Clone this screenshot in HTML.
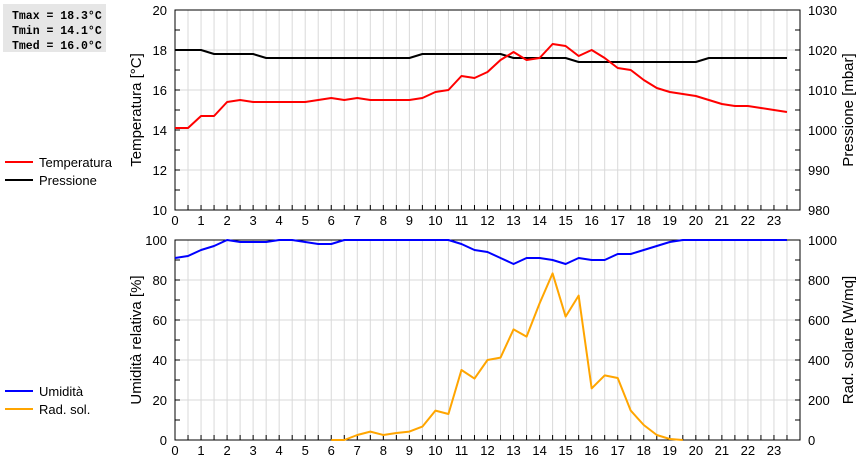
<!DOCTYPE html>
<html><head><meta charset="utf-8"><style>
body{margin:0;background:#fff;}
svg{font-family:"Liberation Sans",sans-serif;font-size:13px;}
</style></head><body>
<svg id="c" width="860" height="460" xmlns="http://www.w3.org/2000/svg">
<rect x="3" y="4" width="103" height="48" fill="#e6e6e6"/>
<g font-family="Liberation Mono, monospace" font-weight="bold" font-size="11.5">
<text x="12" y="19">Tmax = 18.3°C</text>
<text x="12" y="34">Tmin = 14.1°C</text>
<text x="12" y="49">Tmed = 16.0°C</text>
</g>
<g id="legend">
<line x1="5" y1="162" x2="33" y2="162" stroke="#f00" stroke-width="2"/><text x="39" y="167">Temperatura</text>
<line x1="5" y1="180" x2="33" y2="180" stroke="#000" stroke-width="2"/><text x="39" y="185">Pressione</text>
<line x1="5" y1="409" x2="33" y2="409" stroke="orange" stroke-width="2"/><text x="39" y="414">Rad. sol.</text>
<line x1="5" y1="391" x2="33" y2="391" stroke="#00f" stroke-width="2"/><text x="39" y="396">Umidità</text>
</g>
<g id="g"></g>
</svg>
<script>
const hours=[0,0.5,1,1.5,2,2.5,3,3.5,4,4.5,5,5.5,6,6.5,7,7.5,8,8.5,9,9.5,10,10.5,11,11.5,12,12.5,13,13.5,14,14.5,15,15.5,16,16.5,17,17.5,18,18.5,19,19.5,20,20.5,21,21.5,22,22.5,23,23.5];
const temperature=[14.1,14.1,14.7,14.7,15.4,15.5,15.4,15.4,15.4,15.4,15.4,15.5,15.6,15.5,15.6,15.5,15.5,15.5,15.5,15.6,15.9,16.0,16.7,16.6,16.9,17.5,17.9,17.5,17.6,18.3,18.2,17.7,18.0,17.6,17.1,17.0,16.5,16.1,15.9,15.8,15.7,15.5,15.3,15.2,15.2,15.1,15.0,14.9];
const pressure=[1020,1020,1020,1019,1019,1019,1019,1018,1018,1018,1018,1018,1018,1018,1018,1018,1018,1018,1018,1019,1019,1019,1019,1019,1019,1019,1018,1018,1018,1018,1018,1017,1017,1017,1017,1017,1017,1017,1017,1017,1017,1018,1018,1018,1018,1018,1018,1018];
const humidity=[91,92,95,97,100,99,99,99,100,100,99,98,98,100,100,100,100,100,100,100,100,100,98,95,94,91,88,91,91,90,88,91,90,90,93,93,95,97,99,100,100,100,100,100,100,100,100,100];
const radiation=[0,0,0,0,0,0,0,0,0,0,0,0,0,0,25,42,25,35,42,67,147,130,350,307,400,412,553,517,683,833,617,722,258,323,310,147,75,25,5,0,0,0,0,0,0,0,0,0];
const xTicks=[0,1,2,3,4,5,6,7,8,9,10,11,12,13,14,15,16,17,18,19,20,21,22,23];
const tempTicks=[10,12,14,16,18,20];
const presTicks=[980,990,1000,1010,1020,1030];
const humTicks=[0,20,40,60,80,100];
const radTicks=[0,200,400,600,800,1000];

const NS="http://www.w3.org/2000/svg";
const G=document.getElementById('g');
const L=175,R=800;
const x=h=>L+h*(R-L)/24;
function mk(t,a,parent){const e=document.createElementNS(NS,t);for(const k in a)e.setAttribute(k,a[k]);(parent||G).appendChild(e);return e;}
function panel(top,bot,lmin,lmax,lt,rmin,rmax,rt,lTitle,rTitle,nm){
  const ly=v=>bot-(v-lmin)/(lmax-lmin)*(bot-top);
  for(let h=0.5;h<24;h+=0.5){const l=mk('line',{x1:x(h),x2:x(h),y1:top,y2:bot,stroke:'#d9d9d9'});
    }
  lt.forEach(v=>{if(v>lmin&&v<lmax){const l=mk('line',{x1:L,x2:R,y1:ly(v),y2:ly(v),stroke:'#d9d9d9'});
    }});
  const f=mk('rect',{x:L,y:top,width:R-L,height:bot-top,fill:'none',stroke:'#000'});
  
  for(let h=0.5;h<24;h+=0.5)mk('line',{x1:x(h),x2:x(h),y1:bot,y2:bot-5,stroke:'#000'});
  const step=(bot-top)/10;
  for(let i=1;i<10;i++){mk('line',{x1:L,x2:L+5,y1:top+i*step,y2:top+i*step,stroke:'#000'});mk('line',{x1:R,x2:R-5,y1:top+i*step,y2:top+i*step,stroke:'#000'});}
  lt.forEach(v=>{const t=mk('text',{x:L-8,y:ly(v)+5,'text-anchor':'end'});t.textContent=v;
    });
  rt.forEach((v,i)=>{const yy=bot-(v-rmin)/(rmax-rmin)*(bot-top);const t=mk('text',{x:R+8,y:yy+5});t.textContent=v;
    });
  xTicks.forEach(h=>{const t=mk('text',{x:x(h),y:bot+15,'text-anchor':'middle'});t.textContent=h;
    });
  const cy=(top+bot)/2;
  const a=mk('text',{x:0,y:0,transform:`translate(141,${cy}) rotate(-90)`,'text-anchor':'middle','font-size':'15'});a.textContent=lTitle;
  
  const b=mk('text',{x:0,y:0,transform:`translate(853,${cy}) rotate(-90)`,'text-anchor':'middle','font-size':'15'});b.textContent=rTitle;
  
}
function line(vals,min,max,top,bot,color,name,i0,i1){
  i0=i0||0;i1=(i1===undefined)?vals.length-1:i1;
  const pts=[];
  for(let i=i0;i<=i1;i++)pts.push(x(hours[i])+','+(bot-(vals[i]-min)/(max-min)*(bot-top)));
  const p=mk('polyline',{points:pts.join(' '),fill:'none',stroke:color,'stroke-width':2,'stroke-linejoin':'round'});
  
}
panel(10,210,10,20,tempTicks,980,1030,presTicks,'Temperatura [°C]','Pressione [mbar]','top-panel');
line(pressure,980,1030,10,210,'#000','pressure-line');
line(temperature,10,20,10,210,'#f00','temperature-line');
panel(240,440,0,100,humTicks,0,1000,radTicks,'Umidità relativa [%]','Rad. solare [W/mq]','bottom-panel');
let first=radiation.findIndex(v=>v>0),last=radiation.length-1;
while(last>0&&radiation[last]<=0)last--;
line(radiation,0,1000,240,440,'orange','radiation-line',Math.max(0,first-2),Math.min(radiation.length-1,last+1));
line(humidity,0,100,240,440,'#00f','humidity-line');
</script>
</body></html>
